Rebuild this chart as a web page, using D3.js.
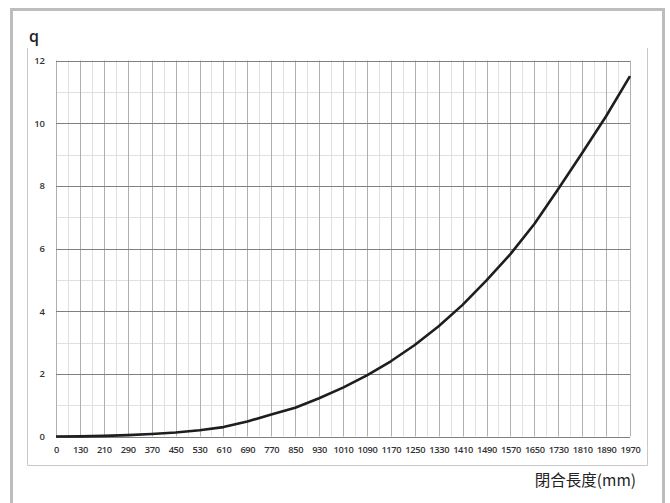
<!DOCTYPE html>
<html>
<head>
<meta charset="utf-8">
<script src="https://cdn.jsdelivr.net/npm/d3@7"></script>
<style>
  body { margin: 0; background: #fff; }
  svg { display: block; }
  .tick text { font-family: "Open Sans", "Liberation Sans", sans-serif; font-weight: 600; fill: #333; }
</style>
</head>
<body>
<div id="chart"></div>
<script>
// data
var categories = ["0", "130", "210", "290", "370", "450", "530", "610", "690", "770",
  "850", "930", "1010", "1090", "1170", "1250", "1330", "1410", "1490", "1570",
  "1650", "1730", "1810", "1890", "1970"];
var qValues = [0, 0.005, 0.02, 0.045, 0.08, 0.13, 0.2, 0.3, 0.48, 0.7,
  0.92, 1.22, 1.56, 1.95, 2.4, 2.92, 3.52, 4.2, 4.98, 5.82,
  6.78, 7.9, 9.05, 10.22, 11.5];
var yTicks = [0, 2, 4, 6, 8, 10, 12];
var yMinor = [1, 3, 5, 7, 9, 11];

// placement (plot area)
var W = 670, H = 503;
var pLeft = 56, pRight = 630, pTop = 60.5, pBottom = 436.5;

var svg = d3.select("#chart").append("svg")
  .attr("width", W)
  .attr("height", H);

// outer frame
svg.append("path")
  .attr("d", "M11.5," + H + "V9.5H663.5V" + H)
  .attr("fill", "none")
  .attr("stroke", "#bdbdbd")
  .attr("stroke-width", 3);

// inner frame (left, bottom, right)
svg.append("path")
  .attr("d", "M27.5,48V465.5H647.5V48")
  .attr("fill", "none")
  .attr("stroke", "#c8c8c8")
  .attr("stroke-width", 1);

var x = d3.scalePoint().domain(categories).range([pLeft, pRight]);
var y = d3.scaleLinear().domain([0, 12]).range([pBottom, pTop]);

var grid = svg.append("g");

// minor vertical lines between categories
var mids = categories.slice(1).map(function(c, i) { return (x(categories[i]) + x(c)) / 2; });
grid.selectAll(".vminor")
  .data(mids)
  .enter().append("line")
  .attr("x1", function(d) { return Math.round(d) + 0.5; })
  .attr("x2", function(d) { return Math.round(d) + 0.5; })
  .attr("y1", pTop).attr("y2", pBottom)
  .attr("stroke", "#e0e0e0");

// minor horizontal
grid.selectAll(".hminor")
  .data(yMinor)
  .enter().append("line")
  .attr("x1", pLeft).attr("x2", pRight)
  .attr("y1", function(d) { return Math.round(y(d)) + 0.5; })
  .attr("y2", function(d) { return Math.round(y(d)) + 0.5; })
  .attr("stroke", "#e0e0e0");

// major vertical at categories
grid.selectAll(".vmajor")
  .data(categories)
  .enter().append("line")
  .attr("x1", function(d) { return Math.round(x(d)) + 0.5; })
  .attr("x2", function(d) { return Math.round(x(d)) + 0.5; })
  .attr("y1", pTop).attr("y2", pBottom)
  .attr("stroke", "#b0b0b0");

// major horizontal
grid.selectAll(".hmajor")
  .data(yTicks)
  .enter().append("line")
  .attr("x1", pLeft).attr("x2", pRight)
  .attr("y1", function(d) { return Math.round(y(d)) + 0.5; })
  .attr("y2", function(d) { return Math.round(y(d)) + 0.5; })
  .attr("stroke", "#808080");

// axes (labels only)
var yAxis = d3.axisLeft(y).tickValues(yTicks).tickSize(0).tickPadding(0);
svg.append("g")
  .attr("transform", "translate(45,0)")
  .call(yAxis)
  .call(function(g) { g.select(".domain").remove(); })
  .selectAll("text")
  .attr("font-size", 9.5);

var xAxis = d3.axisBottom(x).tickSize(0).tickPadding(0);
svg.append("g")
  .attr("transform", "translate(0,446)")
  .call(xAxis)
  .call(function(g) { g.select(".domain").remove(); })
  .selectAll("text")
  .attr("font-size", 9.3)
  .attr("letter-spacing", -0.35);

// curve
var line = d3.line()
  .x(function(d, i) { return x(categories[i]); })
  .y(function(d) { return y(d); });

svg.append("path")
  .datum(qValues)
  .attr("d", line)
  .attr("fill", "none")
  .attr("stroke", "#1e1e1e")
  .attr("stroke-width", 2.6)
  .attr("stroke-linejoin", "round");

// titles
svg.append("text")
  .attr("x", 29).attr("y", 42)
  .attr("font-family", "'Open Sans', 'Liberation Sans', sans-serif")
  .attr("font-weight", 600)
  .attr("font-size", 16)
  .attr("fill", "#222")
  .text("q");

svg.append("text")
  .attr("x", 636).attr("y", 486)
  .attr("text-anchor", "end")
  .attr("font-family", "'Noto Sans CJK TC', 'Noto Sans', sans-serif")
  .attr("font-size", 15.5)
  .attr("fill", "#222")
  .text("閉合長度(mm)");
</script>
</body>
</html>
